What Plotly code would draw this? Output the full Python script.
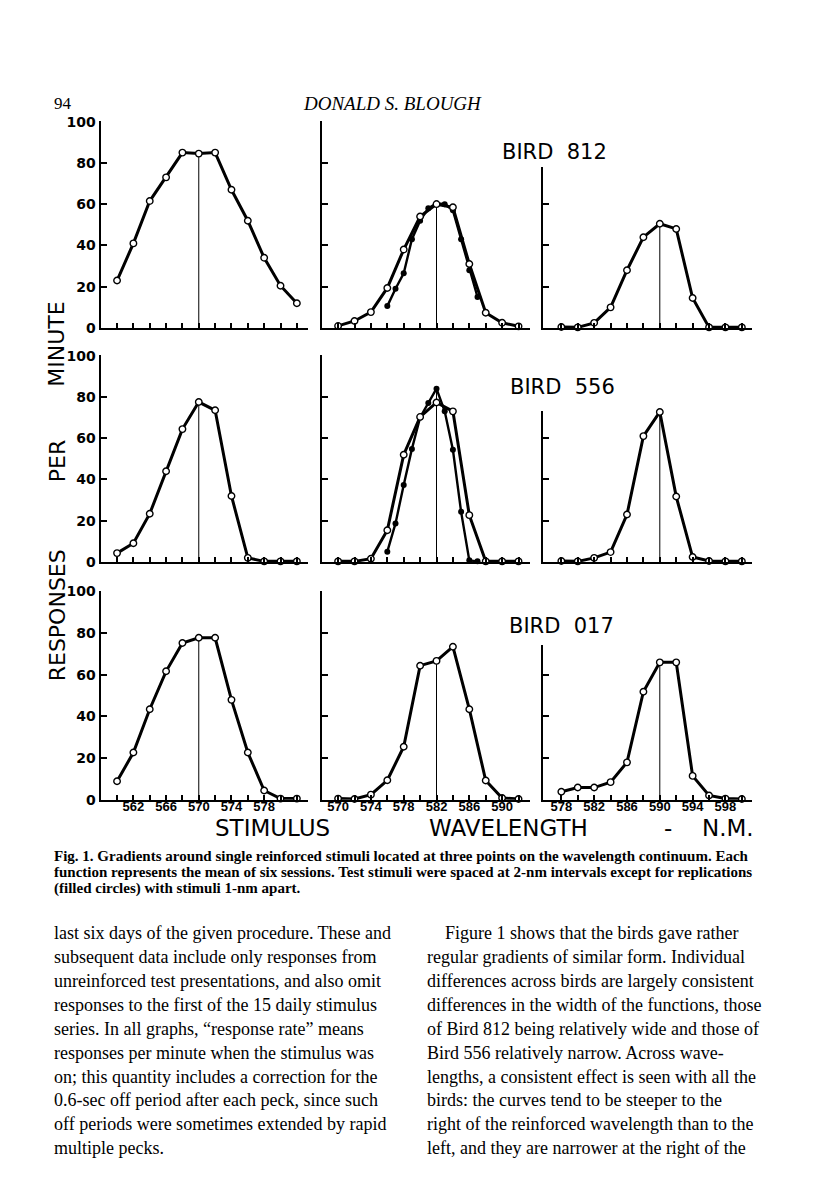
import plotly.graph_objects as go

# page drawn inside the browser's default 8px body margin
PAGE_W, PAGE_H = 816, 1200
OFF = 8
W, H = PAGE_W - 2 * OFF, PAGE_H - 2 * OFF

# ---------------- data ----------------
wl_left = [560, 562, 564, 566, 568, 570, 572, 574, 576, 578, 580, 582]
wl_mid = [570, 572, 574, 576, 578, 580, 582, 584, 586, 588, 590, 592]
wl_right = [578, 580, 582, 584, 586, 588, 590, 592, 594, 596, 598, 600]
centers = [570, 582, 590]

b812_left = [23, 41, 61.5, 73, 85, 84.5, 85, 67, 52, 34, 20.5, 12]
b812_mid = [1, 3.4, 7.7, 19.4, 38, 54, 60, 58.5, 31, 7.4, 2.5, 0.8]
b812_mid_rep_wl = [576, 577, 578, 579, 580, 581, 582, 583, 584, 585, 586, 587]
b812_mid_rep = [10.6, 19, 26.5, 43, 52, 58, 60.5, 60, 57, 43, 28, 15]
b812_right = [0.5, 0.3, 2.5, 10, 28, 44, 50.5, 48, 14.5, 0.3, 0.3, 0.3]

b556_left = [4.3, 9.1, 23.4, 44, 64.4, 77.5, 73.5, 32, 2, 0.3, 0.3, 0.3]
b556_mid = [0.3, 0.3, 1.6, 15.4, 52, 70.3, 77.3, 73, 22.7, 0.3, 0.3, 0.3]
b556_mid_rep_wl = [576, 577, 578, 579, 580, 581, 582, 583, 584, 585, 586, 587]
b556_mid_rep = [5, 18.7, 37.3, 54.8, 70, 77, 84, 73, 54.4, 24.3, 0.8, 0.3]
b556_right = [0.5, 0.3, 2, 4.8, 23, 61, 72.7, 31.7, 2.4, 0.5, 0.3, 0.3]

b017_left = [8.8, 22.6, 43.4, 61.6, 75.2, 77.7, 77.7, 47.9, 22.6, 4.4, 0.5, 0.5]
b017_mid = [0.5, 0.3, 2.4, 9.3, 25.4, 64.3, 66.6, 73.4, 43.4, 9.2, 0.8, 0.3]
b017_right = [3.8, 5.8, 5.8, 8.4, 17.9, 51.8, 65.9, 65.9, 11.4, 2, 0.5, 0.3]

bird_names = ["BIRD\u00a0 812", "BIRD\u00a0 556", "BIRD\u00a0 017"]
y_ticks = [0, 20, 40, 60, 80, 100]
y_ticks_right = [20, 40, 60]
x_labels = [["562", "566", "570", "574", "578"],
            ["570", "574", "578", "582", "586", "590"],
            ["578", "582", "586", "590", "594", "598"]]

rows_data = [
    [(wl_left, b812_left, None, None), (wl_mid, b812_mid, b812_mid_rep_wl, b812_mid_rep), (wl_right, b812_right, None, None)],
    [(wl_left, b556_left, None, None), (wl_mid, b556_mid, b556_mid_rep_wl, b556_mid_rep), (wl_right, b556_right, None, None)],
    [(wl_left, b017_left, None, None), (wl_mid, b017_mid, None, None), (wl_right, b017_right, None, None)],
]

caption = [
    "Fig. 1. Gradients around single reinforced stimuli located at three points on the wavelength continuum. Each",
    "function represents the mean of six sessions. Test stimuli were spaced at 2-nm intervals except for replications",
    "(filled circles) with stimuli 1-nm apart.",
]
body_left = [
    "last six days of the given procedure. These and",
    "subsequent data include only responses from",
    "unreinforced test presentations, and also omit",
    "responses to the first of the 15 daily stimulus",
    "series. In all graphs, \u201cresponse rate\u201d means",
    "responses per minute when the stimulus was",
    "on; this quantity includes a correction for the",
    "0.6-sec off period after each peck, since such",
    "off periods were sometimes extended by rapid",
    "multiple pecks.",
]
body_right = [
    "Figure 1 shows that the birds gave rather",
    "regular gradients of similar form. Individual",
    "differences across birds are largely consistent",
    "differences in the width of the functions, those",
    "of Bird 812 being relatively wide and those of",
    "Bird 556 relatively narrow. Across wave-",
    "lengths, a consistent effect is seen with all the",
    "birds: the curves tend to be steeper to the",
    "right of the reinforced wavelength than to the",
    "left, and they are narrower at the right of the",
]

# ---------------- geometry (page pixels) ----------------
col_geo = [(100.7, 308.3, 558.0, 583.4), (321.7, 530.0, 568.0, 593.4), (543.3, 751.7, 575.8, 601.2)]
row_geo = [(325.0, 2.09), (562.0, 2.09), (802.7, 2.11)]
right_tops = [78, 73.4, 74]

SANS = "DejaVu Sans"
SERIF = "Liberation Serif"

fig = go.Figure()
layout = {}


def px(x):
    return (x - OFF) / W


def py(y):
    return 1 - (y - OFF) / H


for r in range(3):
    for c in range(3):
        i = r * 3 + c + 1
        xn = "x" if i == 1 else f"x{i}"
        yn = "y" if i == 1 else f"y{i}"
        wl, vals, rwl, rvals = rows_data[r][c]
        cen = centers[c]
        peak = vals[wl.index(cen)]
        if rwl is not None:
            peak = max(peak, rvals[rwl.index(cen)])
        fig.add_trace(go.Scatter(x=[cen, cen], y=[0, peak], mode="lines",
                                 line=dict(color="black", width=1),
                                 xaxis=xn, yaxis=yn, showlegend=False, hoverinfo="skip"))
        if rwl is not None:
            fig.add_trace(go.Scatter(x=rwl, y=rvals, mode="lines+markers",
                                     line=dict(color="black", width=2.4),
                                     marker=dict(symbol="circle", size=6, color="black"),
                                     xaxis=xn, yaxis=yn, showlegend=False, cliponaxis=False))
        fig.add_trace(go.Scatter(x=wl, y=vals, mode="lines+markers",
                                 line=dict(color="black", width=3),
                                 marker=dict(symbol="circle", size=6.5, color="white",
                                             line=dict(color="black", width=1.4)),
                                 xaxis=xn, yaxis=yn, showlegend=False, cliponaxis=False))

        x0, x1, r0, r1 = col_geo[c]
        y0, sc = row_geo[r]
        top = 100.3 if c < 2 else right_tops[r]
        ytop = y0 - top * sc
        labels = x_labels[c] if r == 2 else []
        ticktext = [str(v) if str(v) in labels else "" for v in wl]
        layout["xaxis" if i == 1 else f"xaxis{i}"] = dict(
            domain=[px(x0), px(x1)], range=[r0, r1], anchor=yn,
            showline=True, linecolor="black", linewidth=2.2,
            ticks="inside", ticklen=5, tickwidth=1.5, tickcolor="black",
            tickvals=wl, ticktext=ticktext, ticklabelstandoff=-6,
            tickfont=dict(family="Liberation Sans", size=13, color="black", weight="bold"),
            showgrid=False, zeroline=False, fixedrange=True)
        layout["yaxis" if i == 1 else f"yaxis{i}"] = dict(
            domain=[py(y0), py(ytop)], range=[0, top], anchor=xn,
            showline=True, linecolor="black", linewidth=2.2,
            ticks="inside", ticklen=6, tickwidth=2, tickcolor="black",
            tickvals=y_ticks if c < 2 else y_ticks_right,
            showticklabels=(c == 0),
            tickfont=dict(family=SANS, size=14, color="black", weight="bold"),
            showgrid=False, zeroline=False, fixedrange=True)

ann = []
for name, (cx, cy) in zip(bird_names, [(554, 147), (562, 385), (561, 627)]):
    ann.append(dict(text=name, x=px(cx), y=py(cy), xref="paper", yref="paper",
                    xanchor="center", yanchor="middle", showarrow=False,
                    font=dict(family=SANS, size=21, color="black")))
for word, cy in [("MINUTE", 342), ("PER", 460), ("RESPONSES", 616)]:
    ann.append(dict(text=word, x=px(57), y=py(cy), xref="paper", yref="paper",
                    xanchor="center", yanchor="middle", textangle=-90, showarrow=False,
                    font=dict(family=SANS, size=22, color="black")))
for word, cx in [("STIMULUS", 272), ("WAVELENGTH", 508), ("-", 668), ("N.M.", 728)]:
    ann.append(dict(text=word, x=px(cx), y=py(831), xref="paper", yref="paper",
                    xanchor="center", yanchor="middle", showarrow=False,
                    font=dict(family=SANS, size=23, color="black")))
ann.append(dict(text="94", x=px(52), y=py(98), xref="paper", yref="paper",
                xanchor="left", yanchor="middle", showarrow=False,
                font=dict(family=SERIF, size=17, color="black")))
ann.append(dict(text="<i>DONALD S. BLOUGH</i>", x=px(392), y=py(98), xref="paper", yref="paper",
                xanchor="center", yanchor="middle", showarrow=False,
                font=dict(family=SERIF, size=19, color="black")))
for k, line in enumerate(caption):
    ann.append(dict(text=line, x=px(52), y=py(860 + k * 16.5), xref="paper", yref="paper",
                    xanchor="left", yanchor="middle", showarrow=False,
                    font=dict(family=SERIF, size=15, color="black", weight="bold")))
for k, line in enumerate(body_left):
    ann.append(dict(text=line, x=px(52), y=py(938 + k * 24.2), xref="paper", yref="paper",
                    xanchor="left", yanchor="middle", showarrow=False,
                    font=dict(family=SERIF, size=18, color="black")))
for k, line in enumerate(body_right):
    ann.append(dict(text=line, x=px(443 if k == 0 else 425), y=py(938 + k * 24.2), xref="paper", yref="paper",
                    xanchor="left", yanchor="middle", showarrow=False,
                    font=dict(family=SERIF, size=18, color="black")))

fig.update_layout(width=W, height=H, margin=dict(l=0, r=0, t=0, b=0),
                  paper_bgcolor="white", plot_bgcolor="white",
                  showlegend=False, annotations=ann, **layout)

fig.write_html("out.html")
